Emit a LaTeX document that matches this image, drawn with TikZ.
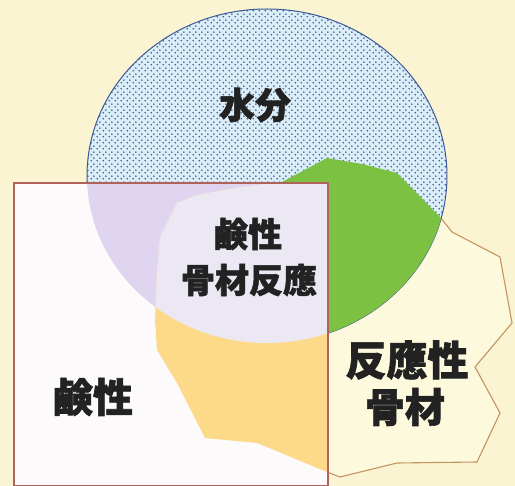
\documentclass[tikz,border=0pt]{standalone}
\usepackage{fontspec}
\newfontfamily\cjk{Noto Sans CJK JP}[BoldFeatures={FakeBold=1.5}]
\usetikzlibrary{patterns.meta}
\definecolor{bgcream}{HTML}{FBF4D2}
\definecolor{aggfill}{HTML}{FDF9DC}
\definecolor{aggline}{HTML}{C39460}
\definecolor{waterfill}{HTML}{D9EEF8}
\definecolor{waterdot}{HTML}{45598C}
\definecolor{waterline}{HTML}{3D5896}
\definecolor{sqfill}{HTML}{FDFAFC}
\definecolor{sqline}{HTML}{B0625C}
\definecolor{lav}{HTML}{DFD5F1}
\definecolor{pale}{HTML}{EBE8F4}
\definecolor{orng}{HTML}{FDD98A}
\definecolor{grn}{HTML}{7CC142}
\definecolor{txt}{HTML}{222222}
\tikzdeclarepattern{
  name=waterdots,
  type=uncolored,
  bounding box={(0pt,0pt) and (6pt,6pt)},
  tile size={(6pt,6pt)},
  code={\fill (1.5pt,1.5pt) circle (1.05pt); \fill (4.5pt,4.5pt) circle (1.05pt);}
}
\tikzset{
  lbl/.style={text=txt, font=\cjk\bfseries, inner sep=0pt},
}
\def\aggpath{(327,158) -- (362,164) -- (397,173) -- (440,217) -- (452,232) -- (500,257) -- (512,323) -- (475,367) -- (493,400) -- (500,413) -- (477,462) -- (397,463) -- (340,477) -- (327,472) -- (257,443) -- (205,438) -- (177,383) -- (157,350) -- (155,320) -- (157,270) -- (160,237) -- (177,203) -- (197,195) -- (240,187) -- (282,182) -- cycle}
\def\waterpath{(267,176) ellipse [x radius=180pt, y radius=167pt]}
\def\sqpath{(14,183) rectangle (328,486)}
\begin{document}
\begin{tikzpicture}[x=1pt,y=-1pt]
\useasboundingbox (0,0) rectangle (515,486);
\fill[bgcream] (0,0) rectangle (515,486);
% reactive aggregate
\fill[aggfill] \aggpath;
\draw[aggline, line width=1.1pt, line join=round] \aggpath;
% water
\fill[waterfill] \waterpath;
\fill[pattern=waterdots, pattern color=waterdot] \waterpath;
\draw[waterline, line width=1pt] \waterpath;
% green = water & aggregate
\begin{scope}
  \clip \waterpath;
  \fill[grn] \aggpath;
\end{scope}
% alkali square
\fill[sqfill] \sqpath;
\begin{scope}
  \clip \sqpath;
  \fill[lav] \waterpath;
  \fill[orng] \aggpath;
  \begin{scope}
    \clip \waterpath;
    \fill[pale] \aggpath;
  \end{scope}
\end{scope}
\draw[sqline, line width=1.2pt] \sqpath;
% labels
\node[lbl, font=\cjk\bfseries\fontsize{36}{40}\selectfont] (water) at (255,105) {水分};
\node[lbl, font=\cjk\bfseries\fontsize{34}{38}\selectfont] (asr1) at (248,234) {鹸性};
\node[lbl, font=\cjk\bfseries\fontsize{34}{38}\selectfont] (asr2) at (249,280) {骨材反應};
\node[lbl, font=\cjk\bfseries\fontsize{40}{44}\selectfont] (alk) at (93,397) {鹸性};
\node[lbl, font=\cjk\bfseries\fontsize{41}{44}\selectfont] (agg1) at (407,360) {反應性};
\node[lbl, font=\cjk\bfseries\fontsize{40}{44}\selectfont] (agg2) at (405,407) {骨材};
\end{tikzpicture}
\end{document}
